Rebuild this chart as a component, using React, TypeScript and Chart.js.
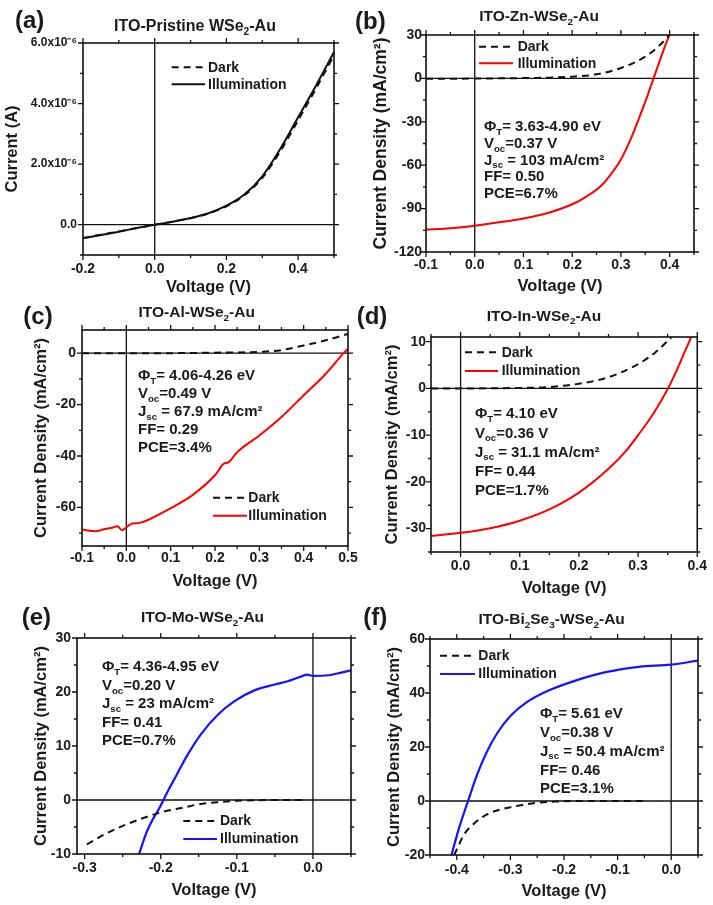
import React, { useEffect, useRef } from 'react';
import { Chart, registerables } from 'chart.js';

Chart.register(...registerables);

const FONT = "'Liberation Sans', Arial, Helvetica, sans-serif";
const INK = '#1a1a1a';
const BLACK = '#111111';
const RED = '#ff0000';
const BLUE = '#1414ff';

// ---------------- Panel (a): ITO-Pristine WSe2-Au (current in A)
const aVolt = [-0.2, -0.15, -0.1, -0.05, 0, 0.05, 0.1, 0.15, 0.2, 0.25, 0.3, 0.35, 0.4, 0.45, 0.5];
const aDarkCurrent = [-0.44e-6, -0.33e-6, -0.22e-6, -0.11e-6, 0, 0.1e-6, 0.21e-6, 0.37e-6, 0.61e-6, 0.97e-6, 1.55e-6, 2.42e-6, 3.45e-6, 4.5e-6, 5.6e-6];
const aIllumCurrent = [-0.45e-6, -0.34e-6, -0.23e-6, -0.11e-6, 0, 0.1e-6, 0.22e-6, 0.38e-6, 0.63e-6, 1.0e-6, 1.6e-6, 2.5e-6, 3.55e-6, 4.6e-6, 5.7e-6];
const aXTicks = [-0.2, 0, 0.2, 0.4];
const aYTicks = [0, 2e-6, 4e-6, 6e-6];

// ---------------- Panel (b): ITO-Zn-WSe2-Au
const bDarkVolt = [-0.1, 0, 0.1, 0.15, 0.2, 0.25, 0.3, 0.35, 0.375, 0.4];
const bDarkJ = [-0.3, -0.1, 0.2, 0.5, 1.2, 2.8, 7.2, 15, 21.5, 30];
const bIllumVolt = [-0.1, -0.05, 0, 0.05, 0.1, 0.15, 0.2, 0.23, 0.26, 0.28, 0.3, 0.32, 0.34, 0.355, 0.367, 0.38, 0.393, 0.404];
const bIllumJ = [-104.5, -103.5, -101.8, -99.5, -96.8, -93, -87, -81.5, -74, -66, -56, -42, -25, -11.5, 0, 12.5, 24.5, 34];
const bXTicks = [-0.1, 0, 0.1, 0.2, 0.3, 0.4];
const bYTicks = [-120, -90, -60, -30, 0, 30];
const bNotes = ['Φ_{T}= 3.63-4.90 eV', 'V_{oc}=0.37 V', 'J_{sc} = 103 mA/cm²', 'FF= 0.50', 'PCE=6.7%'];

// ---------------- Panel (c): ITO-Al-WSe2-Au
const cDarkVolt = [-0.1, 0, 0.1, 0.2, 0.3, 0.35, 0.4, 0.45, 0.5];
const cDarkJ = [0, 0, 0, 0.2, 0.5, 1.2, 3, 5, 7.5];
const cIllumVolt = [-0.1, -0.07, -0.05, -0.03, -0.02, -0.01, 0, 0.01, 0.03, 0.05, 0.1, 0.15, 0.2, 0.22, 0.23, 0.25, 0.3, 0.35, 0.4, 0.45, 0.49, 0.5];
const cIllumJ = [-68.6, -69.3, -68.5, -67.8, -67.3, -68.9, -67.8, -66.5, -66, -64.8, -60.3, -55.1, -47.5, -43, -42.5, -38.5, -32, -24.8, -16.4, -8, 0, 1.7];
const cXTicks = [-0.1, 0, 0.1, 0.2, 0.3, 0.4, 0.5];
const cYTicks = [-60, -40, -20, 0];
const cNotes = ['Φ_{T}= 4.06-4.26 eV', 'V_{oc}=0.49 V', 'J_{sc} = 67.9 mA/cm²', 'FF= 0.29', 'PCE=3.4%'];

// ---------------- Panel (d): ITO-In-WSe2-Au
const dDarkVolt = [-0.05, 0, 0.1, 0.15, 0.2, 0.25, 0.3, 0.33, 0.36];
const dDarkJ = [0, 0, 0.1, 0.3, 1, 2.4, 5.2, 7.8, 11.4];
const dIllumVolt = [-0.05, 0, 0.05, 0.1, 0.15, 0.2, 0.25, 0.28, 0.3, 0.32, 0.34, 0.353, 0.365, 0.378, 0.392];
const dIllumJ = [-31.6, -30.9, -29.9, -28.3, -25.9, -22.3, -17.2, -13.3, -10, -6.5, -2.4, 0.6, 3.8, 7.6, 11.6];
const dXTicks = [0, 0.1, 0.2, 0.3, 0.4];
const dYTicks = [-30, -20, -10, 0, 10];
const dNotes = ['Φ_{T}= 4.10 eV', 'V_{oc}=0.36 V', 'J_{sc} = 31.1 mA/cm²', 'FF= 0.44', 'PCE=1.7%'];

// ---------------- Panel (e): ITO-Mo-WSe2-Au
const eDarkVolt = [-0.297, -0.27, -0.25, -0.22, -0.2, -0.17, -0.15, -0.12, -0.1, -0.05, -0.01];
const eDarkJ = [-8.2, -6.1, -4.8, -3.2, -2.3, -1.4, -0.8, -0.35, -0.15, 0, 0];
const eIllumVolt = [-0.2285, -0.2175, -0.2, -0.19, -0.18, -0.165, -0.147, -0.125, -0.103, -0.077, -0.05, -0.033, -0.015, -0.008, 0, 0.02, 0.037, 0.05];
const eIllumJ = [-10, -5.6, -1.0, 1.8, 4.4, 8.3, 12.2, 15.8, 18.3, 20.3, 21.4, 22, 22.9, 23.2, 23.0, 23.1, 23.6, 24];
const eXTicks = [-0.3, -0.2, -0.1, 0];
const eYTicks = [-10, 0, 10, 20, 30];
const eNotes = ['Φ_{T}= 4.36-4.95 eV', 'V_{oc}=0.20 V', 'J_{sc} = 23 mA/cm²', 'FF= 0.41', 'PCE=0.7%'];

// ---------------- Panel (f): ITO-Bi2Se3-WSe2-Au
const fDarkVolt = [-0.405, -0.385, -0.364, -0.34, -0.309, -0.278, -0.247, -0.216, -0.15, -0.043];
const fDarkJ = [-20, -12, -7.7, -4.6, -2.7, -1.5, -0.6, -0.2, 0, 0];
const fIllumVolt = [-0.41, -0.395, -0.379, -0.363, -0.345, -0.325, -0.3, -0.27, -0.23, -0.18, -0.12, -0.06, 0, 0.05];
const fIllumJ = [-20, -9.5, 0, 9.3, 17.8, 25, 31.5, 36.5, 40.8, 44.5, 47.8, 49.7, 50.5, 52];
const fXTicks = [-0.4, -0.3, -0.2, -0.1, 0];
const fYTicks = [-20, 0, 20, 40, 60];
const fNotes = ['Φ_{T}= 5.61 eV', 'V_{oc}=0.38 V', 'J_{sc} = 50.4 mA/cm²', 'FF= 0.46', 'PCE=3.1%'];

const DARK_LABEL = 'Dark';
const ILLUM_LABEL = 'Illumination';
const X_TITLE = 'Voltage (V)';
const J_TITLE = 'Current Density (mA/cm²)';

type Series = { label: string; x: number[]; y: number[]; color: string; dash: number[]; width: number };
type Cfg = {
  key: string;
  canvas: [number, number, number, number];
  plot: [number, number, number, number];
  xRange: [number, number];
  yRange: [number, number];
  xTicks: number[];
  yTicks: number[];
  xMinor: number;
  yMinor: number;
  xTickPad: number;
  yTickPad: number;
  yTickSize: number;
  yFmt: (v: number) => string;
  xTitlePad: number;
  yTitlePad: number;
  yTitle: string;
  yTitleSize: number;
  title: string;
  titleX: number;
  titleY: number;
  titleSize: number;
  label: string;
  labelX: number;
  labelY: number;
  legend: { x1: number; x2: number; tx: number; y: number[] };
  notes: { lines: string[]; x: number; y0: number; dy: number } | null;
  series: Series[];
};

type Seg = { t: string; sub: boolean };
function parseRich(s: string): Seg[] {
  const out: Seg[] = [];
  const re = /_\{([^}]*)\}/g;
  let last = 0;
  let m: RegExpExecArray | null;
  while ((m = re.exec(s))) {
    if (m.index > last) out.push({ t: s.slice(last, m.index), sub: false });
    out.push({ t: m[1], sub: true });
    last = m.index + m[0].length;
  }
  if (last < s.length) out.push({ t: s.slice(last), sub: false });
  return out;
}

function drawRich(ctx: CanvasRenderingContext2D, s: string, x: number, yCenter: number, size: number, align: 'left' | 'center') {
  const segs = parseRich(s);
  const subSize = size * 0.64;
  const widths = segs.map((sg) => {
    ctx.font = `bold ${sg.sub ? subSize : size}px ${FONT}`;
    return ctx.measureText(sg.t).width;
  });
  const total = widths.reduce((a, b) => a + b, 0);
  let cx = align === 'center' ? x - total / 2 : x;
  const base = yCenter + size * 0.36;
  ctx.textBaseline = 'alphabetic';
  ctx.textAlign = 'left';
  segs.forEach((sg, i) => {
    ctx.font = `bold ${sg.sub ? subSize : size}px ${FONT}`;
    ctx.fillText(sg.t, cx, sg.sub ? base + size * 0.24 : base);
    cx += widths[i];
  });
}

function stepVals(min: number, max: number, step: number) {
  const out: number[] = [];
  for (let k = Math.ceil(min / step - 1e-6); k * step <= max + step * 1e-6; k++) out.push(k * step);
  return out;
}

function makeDecor(cfg: Cfg) {
  const ox = cfg.canvas[0];
  const oy = cfg.canvas[1];
  return {
    id: 'decor' + cfg.key,
    beforeDatasetsDraw(chart: any) {
      const { ctx, chartArea: a, scales } = chart;
      const x0 = scales.x.getPixelForValue(0);
      const y0 = scales.y.getPixelForValue(0);
      ctx.save();
      ctx.strokeStyle = BLACK;
      ctx.lineWidth = 1.3;
      ctx.setLineDash([]);
      ctx.beginPath();
      if (y0 >= a.top && y0 <= a.bottom) {
        ctx.moveTo(a.left, y0);
        ctx.lineTo(a.right, y0);
      }
      if (x0 >= a.left && x0 <= a.right) {
        ctx.moveTo(x0, a.top);
        ctx.lineTo(x0, a.bottom);
      }
      ctx.stroke();
      ctx.restore();
    },
    afterDatasetsDraw(chart: any) {
      const { ctx, chartArea: a, scales } = chart;
      const xs = scales.x;
      const ys = scales.y;
      ctx.save();
      ctx.setLineDash([]);
      // frame
      ctx.strokeStyle = BLACK;
      ctx.lineWidth = 1.6;
      ctx.strokeRect(a.left, a.top, a.right - a.left, a.bottom - a.top);
      // ticks on all four sides, pointing outward
      ctx.lineWidth = 1.3;
      ctx.beginPath();
      stepVals(cfg.xRange[0], cfg.xRange[1], cfg.xMinor).forEach((v) => {
        const major = cfg.xTicks.some((t) => Math.abs(t - v) < cfg.xMinor * 1e-3);
        const L = major ? 5 : 3;
        const p = xs.getPixelForValue(v);
        ctx.moveTo(p, a.bottom);
        ctx.lineTo(p, a.bottom + L);
        ctx.moveTo(p, a.top);
        ctx.lineTo(p, a.top - L);
      });
      stepVals(cfg.yRange[0], cfg.yRange[1], cfg.yMinor).forEach((v) => {
        const major = cfg.yTicks.some((t) => Math.abs(t - v) < cfg.yMinor * 1e-3);
        const L = major ? 5 : 3;
        const p = ys.getPixelForValue(v);
        ctx.moveTo(a.left, p);
        ctx.lineTo(a.left - L, p);
        ctx.moveTo(a.right, p);
        ctx.lineTo(a.right + L, p);
      });
      ctx.stroke();

      // legend
      cfg.series.forEach((s, i) => {
        const y = cfg.legend.y[i] - oy;
        ctx.strokeStyle = s.color;
        ctx.lineWidth = s.width;
        ctx.setLineDash(s.dash);
        ctx.beginPath();
        ctx.moveTo(cfg.legend.x1 - ox, y);
        ctx.lineTo(cfg.legend.x2 - ox, y);
        ctx.stroke();
        ctx.setLineDash([]);
        ctx.fillStyle = INK;
        ctx.font = `bold 14px ${FONT}`;
        ctx.textAlign = 'left';
        ctx.textBaseline = 'middle';
        ctx.fillText(s.label, cfg.legend.tx - ox, y + 0.5);
      });

      // notes
      ctx.fillStyle = INK;
      if (cfg.notes) {
        const n = cfg.notes;
        n.lines.forEach((line, i) => drawRich(ctx, line, n.x - ox, n.y0 + i * n.dy - oy, 15, 'left'));
      }
      // title
      drawRich(ctx, cfg.title, cfg.titleX - ox, cfg.titleY - oy, cfg.titleSize, 'center');
      // panel label
      ctx.font = `bold 24px ${FONT}`;
      ctx.textAlign = 'left';
      ctx.textBaseline = 'middle';
      ctx.fillText(cfg.label, cfg.labelX - ox, cfg.labelY - oy);
      ctx.restore();
    },
  };
}

function Panel({ cfg }: { cfg: Cfg }) {
  const ref = useRef<HTMLCanvasElement>(null);
  useEffect(() => {
    const canvas = ref.current;
    if (!canvas) return;
    const [cx, cy, cw, ch] = cfg.canvas;
    const [pl, pt, pr, pb] = cfg.plot;
    const chart = new Chart(canvas, {
      type: 'line',
      data: {
        datasets: cfg.series.map((s) => ({
          label: s.label,
          data: s.x.map((v, i) => ({ x: v, y: s.y[i] })),
          borderColor: s.color,
          borderWidth: s.width,
          borderDash: s.dash,
          pointRadius: 0,
          fill: false,
          cubicInterpolationMode: 'monotone' as const,
        })),
      },
      options: {
        responsive: false,
        maintainAspectRatio: false,
        animation: false,
        events: [],
        layout: { padding: { left: 0, top: pt - cy, right: cx + cw - pr, bottom: 0 } },
        plugins: { legend: { display: false }, tooltip: { enabled: false }, title: { display: false } },
        scales: {
          x: {
            type: 'linear',
            position: 'bottom',
            min: cfg.xRange[0],
            max: cfg.xRange[1],
            afterBuildTicks: (s: any) => {
              s.ticks = cfg.xTicks.map((v) => ({ value: v }));
            },
            afterFit: (s: any) => {
              s.height = cy + ch - pb;
            },
            grid: { display: false, drawTicks: false },
            border: { display: false },
            ticks: {
              padding: cfg.xTickPad,
              color: INK,
              font: { family: FONT, size: 14, weight: 'bold' },
              maxRotation: 0,
              minRotation: 0,
              autoSkip: false,
              callback: (v: any) => Number(v).toFixed(1),
            },
            title: {
              display: true,
              text: X_TITLE,
              color: INK,
              font: { family: FONT, size: 16.5, weight: 'bold' },
              padding: { top: 0, bottom: cfg.xTitlePad },
            },
          },
          y: {
            type: 'linear',
            position: 'left',
            min: cfg.yRange[0],
            max: cfg.yRange[1],
            afterBuildTicks: (s: any) => {
              s.ticks = cfg.yTicks.map((v) => ({ value: v }));
            },
            afterFit: (s: any) => {
              s.width = pl - cx;
            },
            grid: { display: false, drawTicks: false },
            border: { display: false },
            ticks: {
              padding: cfg.yTickPad,
              color: INK,
              font: { family: FONT, size: cfg.yTickSize, weight: 'bold' },
              autoSkip: false,
              callback: (v: any) => cfg.yFmt(Number(v)),
            },
            title: {
              display: true,
              text: cfg.yTitle,
              color: INK,
              font: { family: FONT, size: cfg.yTitleSize, weight: 'bold' },
              padding: { top: cfg.yTitlePad, bottom: 0 },
            },
          },
        },
      },
      plugins: [makeDecor(cfg)],
    } as any);
    return () => chart.destroy();
  }, [cfg]);
  const [cx, cy, cw, ch] = cfg.canvas;
  return (
    <canvas
      ref={ref}
      width={cw}
      height={ch}
      style={{ position: 'absolute', left: cx, top: cy, width: cw, height: ch }}
    />
  );
}

const intFmt = (v: number) => String(Math.round(v));
const expFmt = (v: number) => (Math.abs(v) < 1e-12 ? '0.0' : (v / 1e-6).toFixed(1) + 'x10⁻⁶');

const dashed = [7, 5];

const PANELS: Cfg[] = [
  {
    key: 'a',
    canvas: [0, 0, 362, 300],
    plot: [83, 43, 334, 255],
    xRange: [-0.2, 0.5],
    yRange: [-1e-6, 6e-6],
    xTicks: aXTicks,
    yTicks: aYTicks,
    xMinor: 0.1,
    yMinor: 1e-6,
    xTickPad: 6,
    yTickPad: 6,
    yTickSize: 12,
    yFmt: expFmt,
    xTitlePad: 2.6,
    yTitlePad: 2.6,
    yTitle: 'Current (A)',
    yTitleSize: 16.5,
    title: 'ITO-Pristine WSe_{2}-Au',
    titleX: 195,
    titleY: 25,
    titleSize: 16,
    label: '(a)',
    labelX: 15,
    labelY: 21,
    legend: { x1: 171.7, x2: 205, tx: 208, y: [67.3, 84.3] },
    notes: null,
    series: [
      { label: DARK_LABEL, x: aVolt, y: aDarkCurrent, color: BLACK, dash: dashed, width: 2 },
      { label: ILLUM_LABEL, x: aVolt, y: aIllumCurrent, color: BLACK, dash: [], width: 2 },
    ],
  },
  {
    key: 'b',
    canvas: [350, 0, 363, 300],
    plot: [426, 35, 694, 252],
    xRange: [-0.1, 0.45],
    yRange: [-120, 30],
    xTicks: bXTicks,
    yTicks: bYTicks,
    xMinor: 0.05,
    yMinor: 15,
    xTickPad: 4.5,
    yTickPad: 4,
    yTickSize: 14,
    yFmt: intFmt,
    xTitlePad: 3.4,
    yTitlePad: 20.3,
    yTitle: J_TITLE,
    yTitleSize: 17.5,
    title: 'ITO-Zn-WSe_{2}-Au',
    titleX: 539,
    titleY: 15.7,
    titleSize: 15.5,
    label: '(b)',
    labelX: 355,
    labelY: 22.5,
    legend: { x1: 479, x2: 513, tx: 517.7, y: [46.7, 63.3] },
    notes: { lines: bNotes, x: 484, y0: 126, dy: 16.6 },
    series: [
      { label: DARK_LABEL, x: bDarkVolt, y: bDarkJ, color: BLACK, dash: dashed, width: 2 },
      { label: ILLUM_LABEL, x: bIllumVolt, y: bIllumJ, color: RED, dash: [], width: 2 },
    ],
  },
  {
    key: 'c',
    canvas: [0, 300, 362, 300],
    plot: [82, 330, 348, 546],
    xRange: [-0.1, 0.5],
    yRange: [-75, 9],
    xTicks: cXTicks,
    yTicks: cYTicks,
    xMinor: 0.05,
    yMinor: 10,
    xTickPad: 3.5,
    yTickPad: 6,
    yTickSize: 14,
    yFmt: intFmt,
    xTitlePad: 8.4,
    yTitlePad: 31.4,
    yTitle: J_TITLE,
    yTitleSize: 16.5,
    title: 'ITO-Al-WSe_{2}-Au',
    titleX: 196.7,
    titleY: 311.7,
    titleSize: 15.5,
    label: '(c)',
    labelX: 23.3,
    labelY: 317.5,
    legend: { x1: 213, x2: 247, tx: 248.3, y: [497.7, 515.7] },
    notes: { lines: cNotes, x: 138, y0: 375, dy: 18 },
    series: [
      { label: DARK_LABEL, x: cDarkVolt, y: cDarkJ, color: BLACK, dash: dashed, width: 2 },
      { label: ILLUM_LABEL, x: cIllumVolt, y: cIllumJ, color: RED, dash: [], width: 2 },
    ],
  },
  {
    key: 'd',
    canvas: [350, 300, 363, 300],
    plot: [431, 337, 698, 552],
    xRange: [-0.05, 0.4],
    yRange: [-35, 11],
    xTicks: dXTicks,
    yTicks: dYTicks,
    xMinor: 0.05,
    yMinor: 5,
    xTickPad: 6,
    yTickPad: 5,
    yTickSize: 14,
    yFmt: intFmt,
    xTitlePad: 1.8,
    yTitlePad: 32.8,
    yTitle: J_TITLE,
    yTitleSize: 16.5,
    title: 'ITO-In-WSe_{2}-Au',
    titleX: 544,
    titleY: 315,
    titleSize: 15.5,
    label: '(d)',
    labelX: 356.7,
    labelY: 317.5,
    legend: { x1: 465, x2: 498, tx: 501.7, y: [352.3, 371] },
    notes: { lines: dNotes, x: 475, y0: 413, dy: 19.2 },
    series: [
      { label: DARK_LABEL, x: dDarkVolt, y: dDarkJ, color: BLACK, dash: dashed, width: 2 },
      { label: ILLUM_LABEL, x: dIllumVolt, y: dIllumJ, color: RED, dash: [], width: 2 },
    ],
  },
  {
    key: 'e',
    canvas: [0, 600, 362, 305],
    plot: [77, 638, 351, 854],
    xRange: [-0.31, 0.05],
    yRange: [-10, 30],
    xTicks: eXTicks,
    yTicks: eYTicks,
    xMinor: 0.05,
    yMinor: 5,
    xTickPad: 6,
    yTickPad: 6,
    yTickSize: 14,
    yFmt: intFmt,
    xTitlePad: 5.1,
    yTitlePad: 31.1,
    yTitle: J_TITLE,
    yTitleSize: 16.5,
    title: 'ITO-Mo-WSe_{2}-Au',
    titleX: 202.5,
    titleY: 616.7,
    titleSize: 15.5,
    label: '(e)',
    labelX: 21.7,
    labelY: 618.3,
    legend: { x1: 183.3, x2: 217, tx: 220, y: [821, 839] },
    notes: { lines: eNotes, x: 102, y0: 666, dy: 18.5 },
    series: [
      { label: DARK_LABEL, x: eDarkVolt, y: eDarkJ, color: BLACK, dash: dashed, width: 2 },
      { label: ILLUM_LABEL, x: eIllumVolt, y: eIllumJ, color: BLUE, dash: [], width: 2.2 },
    ],
  },
  {
    key: 'f',
    canvas: [350, 600, 363, 305],
    plot: [430, 639, 698, 855],
    xRange: [-0.45, 0.05],
    yRange: [-20, 60],
    xTicks: fXTicks,
    yTicks: fYTicks,
    xMinor: 0.05,
    yMinor: 10,
    xTickPad: 7,
    yTickPad: 5,
    yTickSize: 14,
    yFmt: intFmt,
    xTitlePad: 3.4,
    yTitlePad: 34.8,
    yTitle: J_TITLE,
    yTitleSize: 16.5,
    title: 'ITO-Bi_{2}Se_{3}-WSe_{2}-Au',
    titleX: 551.7,
    titleY: 618.3,
    titleSize: 15.5,
    label: '(f)',
    labelX: 363.3,
    labelY: 618.3,
    legend: { x1: 440, x2: 475, tx: 478.3, y: [655.7, 674] },
    notes: { lines: fNotes, x: 540, y0: 713, dy: 18.7 },
    series: [
      { label: DARK_LABEL, x: fDarkVolt, y: fDarkJ, color: BLACK, dash: dashed, width: 2 },
      { label: ILLUM_LABEL, x: fIllumVolt, y: fIllumJ, color: BLUE, dash: [], width: 2.2 },
    ],
  },
];

export default function App() {
  return (
    <div style={{ position: 'absolute', left: 0, top: 0, width: 713, height: 905, background: '#ffffff', overflow: 'hidden' }}>
      {PANELS.map((p) => (
        <Panel key={p.key} cfg={p} />
      ))}
    </div>
  );
}
